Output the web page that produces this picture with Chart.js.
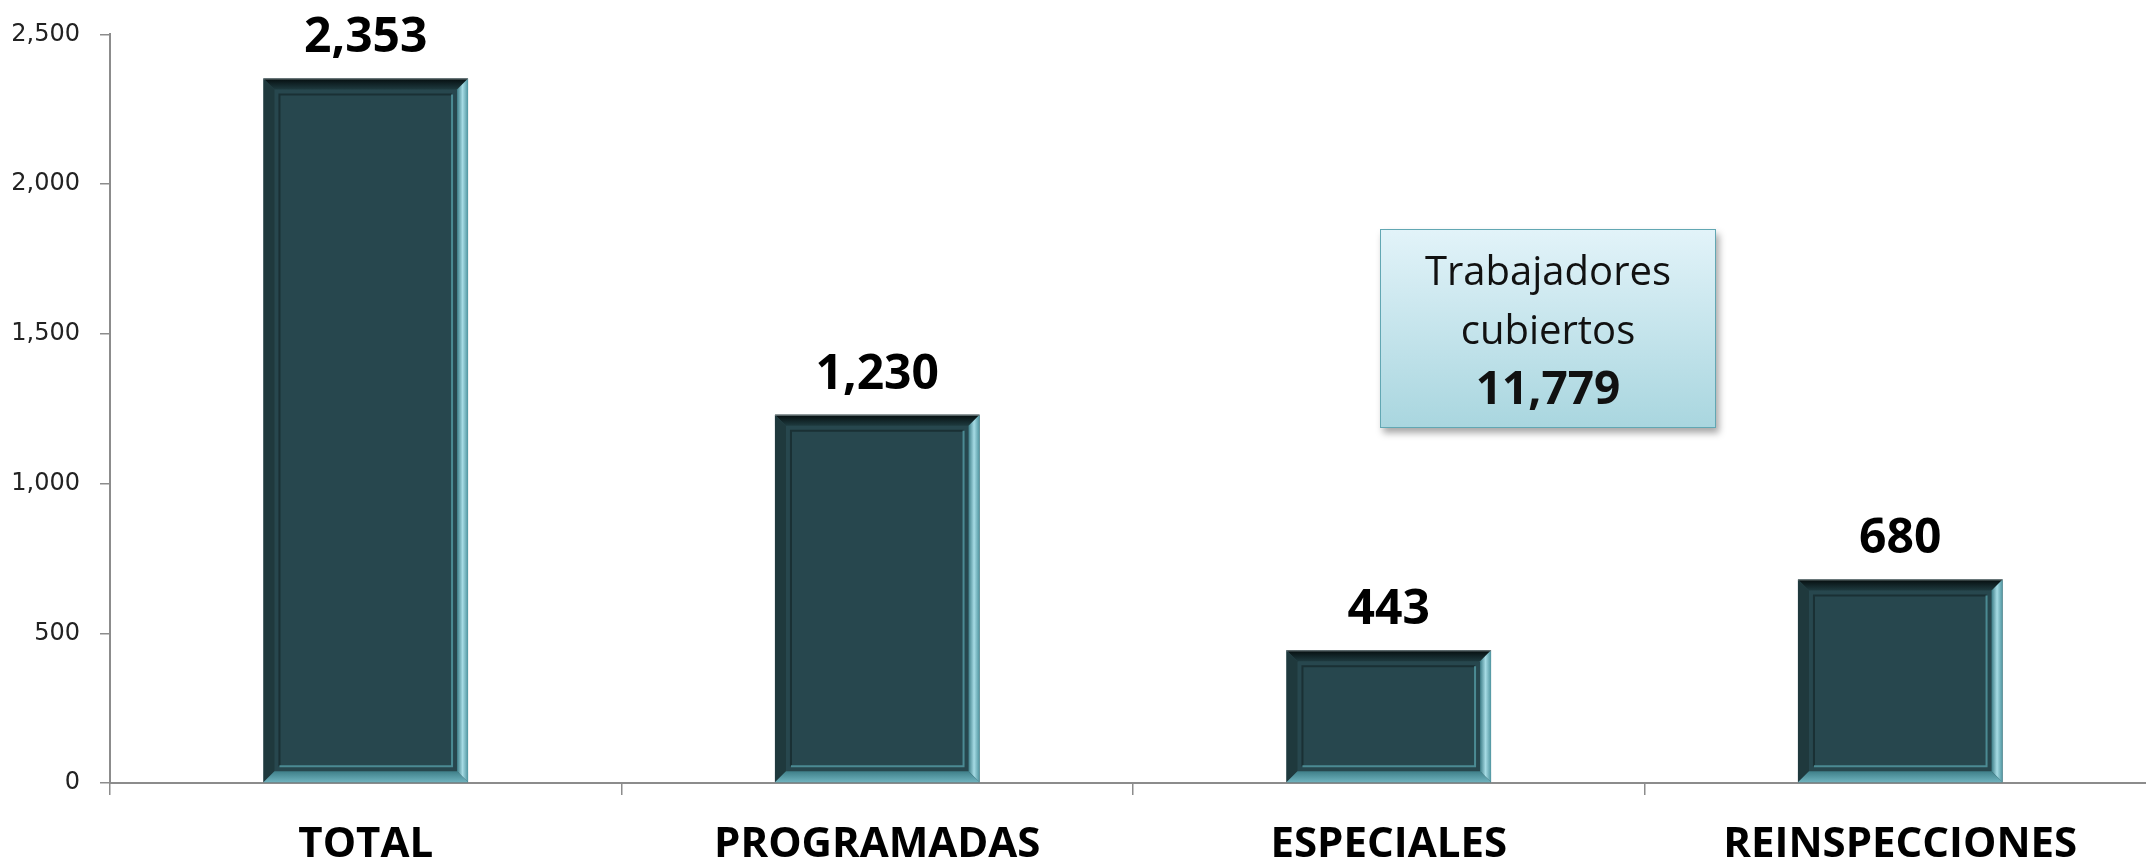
<!DOCTYPE html>
<html>
<head>
<meta charset="utf-8">
<script src="https://cdn.jsdelivr.net/npm/chart.js@4"></script>
<style>
  html, body { margin: 0; padding: 0; background: #ffffff; overflow: hidden; }
  #wrap { position: relative; width: 2146px; height: 866px; overflow: hidden; }
  #noteBox {
    position: absolute; left: 1380px; top: 229px; width: 334px; height: 197px;
    border: 1.5px solid #62a7b3;
    background: linear-gradient(#e2f3f9, #a9d6df);
    box-shadow: 3px 5px 7px rgba(0,0,0,0.35);
    font-family: "Open Sans", sans-serif; color: #111; text-align: center;
  }
  #noteBox .l1 { position: absolute; left: 0; right: 0; top: 10px; font-size: 40px; line-height: 60px; }
  #noteBox .l2 { position: absolute; left: 0; right: 0; top: 69px; font-size: 40px; line-height: 60px; }
  #noteBox .l3 { position: absolute; left: 0; right: 0; top: 124px; font-size: 46px; line-height: 64px; font-weight: 700; }
</style>
</head>
<body>
<div id="wrap">
  <canvas id="barChart" width="2156" height="866"></canvas>
  <div id="noteBox">
    <div class="l1">Trabajadores</div>
    <div class="l2">cubiertos</div>
    <div class="l3">11,779</div>
  </div>
</div>
<script>
// DATA
const categories = ["TOTAL", "PROGRAMADAS", "ESPECIALES", "REINSPECCIONES"];
const inspections = [2353, 1230, 443, 680];
const yTicks = [0, 500, 1000, 1500, 2000, 2500];

// Bevel look for the bars, drawn on top of each bar element
const bevelPlugin = {
  id: 'bevel',
  afterDatasetsDraw(chart) {
    const ctx = chart.ctx;
    chart.getDatasetMeta(0).data.forEach(bar => {
      const { x, y, base, width } = bar.getProps(['x', 'y', 'base', 'width'], true);
      const L = x - width / 2, R = x + width / 2, T = y, B = base, b = 11;
      ctx.save();
      // top
      let g = ctx.createLinearGradient(0, T, 0, T + b);
      g.addColorStop(0, '#050d0e'); g.addColorStop(1, '#1e3a3f');
      ctx.fillStyle = g;
      ctx.beginPath(); ctx.moveTo(L, T); ctx.lineTo(R, T); ctx.lineTo(R - b, T + b); ctx.lineTo(L + b, T + b); ctx.closePath(); ctx.fill();
      // left
      ctx.fillStyle = '#1f393d';
      ctx.beginPath(); ctx.moveTo(L, T); ctx.lineTo(L + b, T + b); ctx.lineTo(L + b, B - b); ctx.lineTo(L, B); ctx.closePath(); ctx.fill();
      // right
      g = ctx.createLinearGradient(R - b, 0, R, 0);
      g.addColorStop(0, '#3e7e88'); g.addColorStop(0.5, '#a6dbe4'); g.addColorStop(1, '#4f95a0');
      ctx.fillStyle = g;
      ctx.beginPath(); ctx.moveTo(R, T); ctx.lineTo(R, B); ctx.lineTo(R - b, B - b); ctx.lineTo(R - b, T + b); ctx.closePath(); ctx.fill();
      // bottom
      g = ctx.createLinearGradient(0, B - b, 0, B);
      g.addColorStop(0, '#3f7f89'); g.addColorStop(1, '#6fb3be');
      ctx.fillStyle = g;
      ctx.beginPath(); ctx.moveTo(L, B); ctx.lineTo(R, B); ctx.lineTo(R - b, B - b); ctx.lineTo(L + b, B - b); ctx.closePath(); ctx.fill();
      // inner frame
      const i = 16;
      ctx.lineWidth = 2;
      ctx.strokeStyle = '#1a3034';
      ctx.beginPath(); ctx.moveTo(L + i, B - i); ctx.lineTo(L + i, T + i); ctx.lineTo(R - i, T + i); ctx.stroke();
      ctx.strokeStyle = '#4b8a93';
      ctx.beginPath(); ctx.moveTo(R - i, T + i); ctx.lineTo(R - i, B - i); ctx.lineTo(L + i, B - i); ctx.stroke();
      // thin outline on top
      ctx.strokeStyle = '#7d8c8e'; ctx.lineWidth = 1;
      ctx.beginPath(); ctx.moveTo(L, T + 0.5); ctx.lineTo(R, T + 0.5); ctx.stroke();
      ctx.restore();
    });
  }
};

// Value labels above the bars
const valueLabels = {
  id: 'valueLabels',
  afterDatasetsDraw(chart) {
    const ctx = chart.ctx;
    ctx.save();
    ctx.font = 'bold 48px "Open Sans", sans-serif';
    ctx.fillStyle = '#000';
    ctx.textAlign = 'center';
    ctx.textBaseline = 'alphabetic';
    chart.getDatasetMeta(0).data.forEach((bar, idx) => {
      ctx.fillText(inspections[idx].toLocaleString('en-US'), bar.x, bar.y - 26);
    });
    ctx.restore();
  }
};

new Chart(document.getElementById('barChart'), {
  type: 'bar',
  data: {
    labels: categories,
    datasets: [{
      data: inspections,
      backgroundColor: '#27474e',
      borderWidth: 0,
      barPercentage: 0.4,
      categoryPercentage: 1.0
    }]
  },
  options: {
    responsive: false,
    animation: false,
    layout: { padding: { top: 31, right: 0, left: 0, bottom: 0 } },
    plugins: { legend: { display: false }, tooltip: { enabled: false } },
    scales: {
      x: {
        grid: { display: true, drawOnChartArea: false, drawTicks: true, tickLength: 12, offset: true, color: '#8c8c8c', lineWidth: 1.5 },
        border: { color: '#8c8c8c', width: 2 },
        ticks: { color: '#000', padding: 25, font: { family: '"Open Sans", sans-serif', size: 42, weight: 'bold' } },
        afterFit: s => { s.height = 83; }
      },
      y: {
        min: 0, max: 2500,
        afterBuildTicks: s => { s.ticks = yTicks.map(v => ({ value: v })); },
        grid: { display: true, drawOnChartArea: false, drawTicks: true, tickLength: 10, color: '#8c8c8c', lineWidth: 1.5 },
        border: { color: '#8c8c8c', width: 2 },
        ticks: {
          color: '#222', padding: 20,
          font: { family: '"DejaVu Sans", sans-serif', size: 24 },
          callback: v => v.toLocaleString('en-US')
        },
        afterFit: s => { s.width = 110; }
      }
    }
  },
  plugins: [bevelPlugin, valueLabels]
});
</script>
</body>
</html>
